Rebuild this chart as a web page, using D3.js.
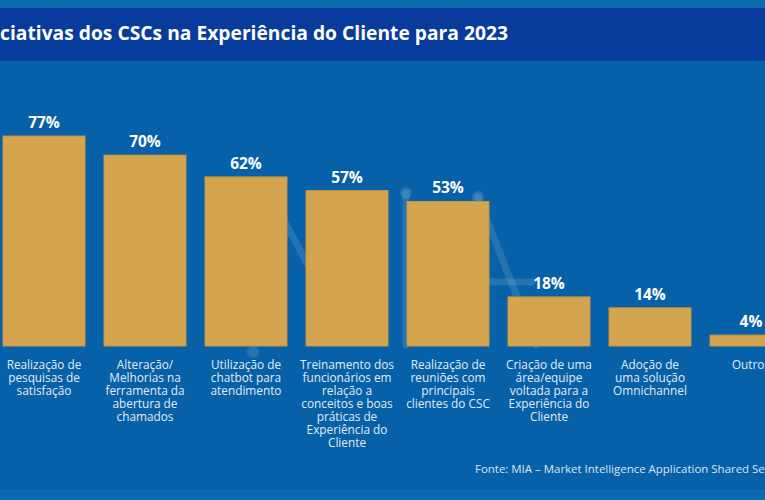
<!DOCTYPE html>
<html><head><meta charset="utf-8">
<script src="https://cdn.jsdelivr.net/npm/d3@7"></script>
<style>html,body{margin:0;padding:0;background:#0661a8;overflow:hidden}svg{display:block}</style>
</head><body>
<script>
const categories = [
  "Realização de|pesquisas de|satisfação",
  "Alteração/|Melhorias na|ferramenta da|abertura de|chamados",
  "Utilização de|chatbot para|atendimento",
  "Treinamento dos|funcionários em|relação a|conceitos e boas|práticas de|Experiência do|Cliente",
  "Realização de|reuniões com|principais|clientes do CSC",
  "Criação de uma|área/equipe|voltada para a|Experiência do|Cliente",
  "Adoção de|uma solução|Omnichannel",
  "Outros"
];
const values = [77, 70, 62, 57, 53, 18, 14, 4];
const titleText = "ciativas dos CSCs na Experiência do Cliente para 2023";
const sourceText = "Fonte: MIA – Market Intelligence Application Shared Services";

const W = 765, H = 500;
const font = "'Open Sans', 'Noto Sans', sans-serif";
const svg = d3.select("body").append("svg").attr("width", W).attr("height", H);

// backgrounds
svg.append("rect").attr("x",0).attr("y",0).attr("width",W).attr("height",H).attr("fill","#0661a8");
svg.append("rect").attr("x",0).attr("y",0).attr("width",W).attr("height",8).attr("fill","#0b6aab");
svg.append("rect").attr("x",0).attr("y",8).attr("width",W).attr("height",53).attr("fill","#083c9c");
svg.append("rect").attr("x",0).attr("y",489).attr("width",W).attr("height",11).attr("fill","#0b6aae");

// faint watermark
const wm = svg.append("g").attr("stroke","#ffffff").attr("stroke-opacity",0.12).attr("stroke-width",7)
  .attr("fill","none").attr("stroke-linecap","round");
wm.append("path").attr("d","M270,195 L312,272");
wm.append("path").attr("d","M406,193 L406,345");
wm.append("path").attr("d","M478,197 L536,345");
wm.append("path").attr("d","M488,282 L532,282");
const wmd = svg.append("g").attr("fill","#ffffff").attr("fill-opacity",0.12);
wmd.append("circle").attr("cx",406).attr("cy",193).attr("r",6);
wmd.append("circle").attr("cx",478).attr("cy",197).attr("r",6);
wmd.append("circle").attr("cx",253).attr("cy",352).attr("r",6);

// title, fitted to the reference width
const title = svg.append("text").attr("x",0).attr("y",40).attr("fill","#ffffff")
  .attr("font-family",font).attr("font-weight",700).attr("font-size",17).text(titleText);
const tw = title.node().getComputedTextLength();
title.attr("font-size", Math.min(19.5, 17 * 508 / tw));
const tw2 = title.node().getComputedTextLength();
title.attr("letter-spacing", (508 - tw2) / titleText.length);

// scales
const x = d3.scaleBand().domain(d3.range(categories.length)).range([3, 792]).paddingInner(0.188).paddingOuter(0);
const y = d3.scaleLinear().domain([0, 100]).range([346, 73.3]);

const g = svg.append("g");
g.selectAll("rect.bar").data(values).join("rect").attr("class","bar")
  .attr("x",(d,i)=>x(i)).attr("width",x.bandwidth())
  .attr("y",d=>y(d)).attr("height",d=>y(0)-y(d))
  .attr("fill","#d4a44f").attr("stroke","#c4953f").attr("stroke-width",1);

g.selectAll("text.val").data(values).join("text").attr("class","val")
  .attr("x",(d,i)=>x(i)+x.bandwidth()/2).attr("y",d=>y(d)-8)
  .attr("text-anchor","middle").attr("fill","#ffffff")
  .attr("font-family",font).attr("font-weight",700).attr("font-size",15.5)
  .text(d=>d+"%");

const lab = g.selectAll("text.cat").data(categories).join("text").attr("class","cat")
  .attr("x",(d,i)=>x(i)+x.bandwidth()/2).attr("y",369)
  .attr("text-anchor","middle").attr("fill","#e3ebf4")
  .attr("font-family",font).attr("font-size",11.8);
lab.each(function(d){
  const t = d3.select(this);
  d.split("|").forEach((line,k)=>{
    t.append("tspan").attr("x",t.attr("x")).attr("dy",k===0?0:13).text(line);
  });
});

// source
const src = svg.append("text").attr("x",475).attr("y",473).attr("fill","#dbe5f0")
  .attr("font-family",font).attr("font-size",11).text("Fonte: MIA – Market Intelligence Application Shared Se");
const sw = src.node().getComputedTextLength();
src.attr("font-size", 11 * 290 / sw).text(sourceText);
</script>
</body></html>
